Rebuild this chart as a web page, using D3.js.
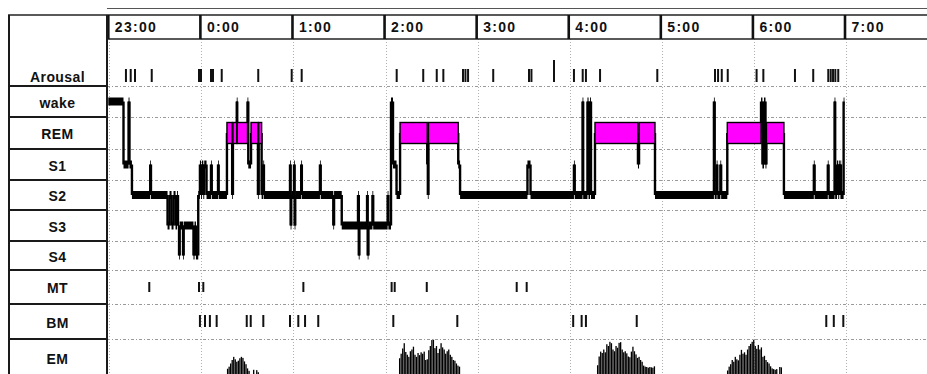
<!DOCTYPE html>
<html>
<head>
<meta charset="utf-8">
<script src="https://cdn.jsdelivr.net/npm/d3@7"></script>
<style>
  html, body { margin: 0; padding: 0; background: #fff; }
  svg { display: block; }
  text { font-family: "Liberation Sans", Arial, Helvetica, sans-serif; font-weight: bold; fill: #111; }
</style>
</head>
<body>
<script>
// ---- data: minutes after 23:00 ----
const hourTicks = [0, 60, 120, 180, 240, 300, 360, 420, 480];
const hourLabels = ["23:00", "0:00", "1:00", "2:00", "3:00", "4:00", "5:00", "6:00", "7:00"];
const rowLabels = ["Arousal", "wake", "REM", "S1", "S2", "S3", "S4", "MT", "BM", "EM"];
const stages = ["wake", "REM", "S1", "S2", "S3", "S4"];

// sleep stage changes: [start minute, stage]
const hypnogram = [
  [0, "wake"], [9.9, "S1"], [13.2, "wake"], [13.8, "S1"], [15.4, "S2"], [27.3, "S1"], [27.8, "S2"],
  [38.6, "S3"], [39.9, "S2"], [41.2, "S3"], [42.5, "S2"], [43.8, "S3"], [44.8, "S2"], [45.4, "S3"],
  [46.1, "S4"], [46.5, "S3"], [48.7, "S4"], [49.1, "S3"], [55.5, "S4"], [56.2, "S3"], [57.1, "S4"],
  [58.6, "S2"], [59.7, "S1"], [60.4, "S2"], [61.0, "S1"], [61.9, "S2"], [62.5, "S1"], [64.0, "S2"],
  [66.9, "S1"], [67.4, "S2"], [71.5, "S1"], [71.9, "S2"],
  [77.3, "REM"], [80.7, "S2"], [81.2, "REM"], [83.7, "wake"], [84.0, "REM"], [90.7, "wake"],
  [91.2, "S1"], [93.0, "REM"], [97.5, "S2"], [98.0, "REM"], [99.9, "S2"], [101.0, "S1"], [101.4, "S2"],
  [118.4, "S1"], [118.8, "S3"], [119.2, "S2"], [121.0, "S1"], [121.4, "S3"], [121.8, "S2"],
  [125.7, "S1"], [126.1, "S2"], [137.9, "S1"], [138.4, "S2"], [146.6, "S3"], [147.1, "S2"],
  [152.1, "S3"], [162.7, "S2"], [163.2, "S4"], [163.6, "S3"], [168.6, "S2"], [169.0, "S4"], [169.5, "S3"],
  [172.1, "S2"], [172.6, "S3"], [182.0, "S2"], [182.5, "S3"], [184.2, "wake"], [185.5, "S1"], [187.8, "S2"],
  [190.1, "REM"], [207.8, "S1"], [208.2, "S2"], [208.6, "REM"], [228.0, "S1"], [229.2, "S2"],
  [273.1, "S1"], [275.1, "S2"], [303.4, "S1"], [303.9, "S2"], [309.0, "wake"], [309.4, "S2"],
  [312.2, "wake"], [312.9, "S2"], [313.9, "wake"], [314.5, "S2"],
  [317.1, "REM"], [345.1, "S1"], [345.8, "REM"], [356.2, "S2"],
  [394.6, "wake"], [395.1, "S2"], [396.4, "S1"], [396.8, "S2"], [398.8, "S1"], [399.3, "S2"],
  [403.3, "REM"], [425.3, "wake"], [426.2, "S1"], [427.2, "wake"], [428.2, "S1"], [428.8, "REM"],
  [440.2, "S2"], [459.7, "S1"], [460.2, "S2"], [468.8, "S1"], [469.3, "S2"], [473.2, "wake"], [473.6, "S2"],
  [474.8, "S1"], [475.5, "S2"], [476.0, "S1"], [476.6, "S2"], [477.0, "S1"], [477.4, "S2"], [479.1, "wake"]
];
const hypnogramEnd = 479.4;

// event markers
const arousals = [11.5, 14.6, 17.4, 28.3, 59.1, 60.4, 66.9, 68.2, 73.9, 97.7, 119.5, 126.0,
  187.9, 205.2, 214.0, 218.3, 231.1, 232.7, 234.4, 250.8, 274.1, 275.7, 303.4, 309.1, 311.2,
  320.4, 357.7, 395.3, 397.3, 399.7, 403.6, 422.4, 426.8, 447.4, 459.3, 469.1, 470.7, 472.2,
  473.7, 475.6];
const longArousals = [290.4];
const movementTime = [26.7, 59.1, 61.9, 127.1, 184.6, 186.6, 207.5, 266.1, 272.6];
const bodyMovements = [59.7, 63.0, 66.2, 70.6, 90.2, 92.8, 101.0, 118.4, 123.8, 128.2, 136.8,
  185.7, 227.4, 302.9, 308.4, 311.2, 344.3, 467.8, 472.7, 478.9];

// eye-movement density per minute during each REM period
const emStarts = [77.3, 189.4, 318.4, 403.1];
const emValues = [
  [1.5, 2.1, 3.0, 4.0, 4.9, 4.2, 3.5, 3.8, 4.5, 4.9, 4.6, 3.6, 2.8, 1.6, 0.9, 0, 0, 1.2, 0, 1.1, 0.5],
  [4.5, 5.8, 7.3, 8.8, 6.3, 5.5, 4.9, 6.5, 7.0, 7.8, 5.5, 4.9, 6.0, 5.4, 6.2, 5.8, 6.4, 4.0, 4.2, 6.8,
   8.0, 9.7, 9.8, 7.4, 8.0, 6.0, 7.2, 8.8, 7.6, 7.0, 5.8, 6.5, 7.0, 5.5, 4.9, 4.0, 3.8, 3.0, 2.4, 2.1],
  [2.5, 5.0, 6.4, 6.0, 7.0, 6.2, 8.5, 8.0, 9.2, 8.8, 7.0, 6.5, 8.0, 7.5, 8.9, 9.1, 7.0, 6.2, 6.5, 5.9,
   5.0, 4.8, 6.4, 7.8, 6.5, 5.6, 4.6, 4.9, 4.0, 3.5, 2.4, 2.1, 2.0, 1.8, 2.0, 1.9, 1.8, 2.2],
  [1.0, 2.1, 2.8, 4.0, 3.5, 4.9, 4.2, 3.9, 5.5, 6.9, 5.8, 6.2, 5.5, 7.0, 8.0, 8.6, 9.2, 9.8, 8.0, 7.2,
   8.3, 7.0, 7.6, 4.9, 5.2, 4.0, 3.4, 3.0, 2.2, 1.6, 1.4, 1.2, 1.4, 0, 2.0, 1.9]
];

// ---- layout ----
const W = 927, H = 374;
const labelLeft = 8, labelRight = 107, plotRight = 927;
const headerTop = 15, headerBottom = 39;
const rowEdges = [39, 86, 117, 149, 180, 210, 241, 270, 304, 339, 376];
const rowTop = {}, rowBottom = {}, rowMid = {};
rowLabels.forEach((r, i) => { rowTop[r] = rowEdges[i]; rowBottom[r] = rowEdges[i + 1]; rowMid[r] = (rowEdges[i] + rowEdges[i + 1]) / 2; });

const x = d3.scaleLinear().domain([0, 480]).range([108.3, 845]);
const yStage = d3.scaleOrdinal().domain(stages).range(stages.map(s => rowMid[s]));
const yEm = d3.scaleLinear().domain([0, 10]).range([374, 339]);

const svg = d3.select("body").append("svg").attr("width", W).attr("height", H);

// dotted grid in the plot area
const grid = svg.append("g").attr("stroke", "#9a9a9a").attr("stroke-width", 1).attr("stroke-dasharray", "3,2,1,2");
grid.selectAll("line.h").data(rowEdges.slice(1, -1)).join("line")
  .attr("x1", labelRight).attr("x2", plotRight).attr("y1", d => d + 0.5).attr("y2", d => d + 0.5);
grid.selectAll("line.v").data(hourTicks).join("line")
  .attr("stroke", "#b0b0b0").attr("stroke-dasharray", "1,2")
  .attr("x1", d => Math.round(x(d)) + 1.5).attr("x2", d => Math.round(x(d)) + 1.5)
  .attr("y1", headerBottom).attr("y2", H);

// header with hour labels
svg.append("line").attr("x1", labelRight).attr("x2", plotRight).attr("y1", 8.5).attr("y2", 8.5)
  .attr("stroke", "#555").attr("stroke-width", 1);
svg.append("line").attr("x1", labelLeft).attr("x2", plotRight).attr("y1", headerTop).attr("y2", headerTop)
  .attr("stroke", "#222").attr("stroke-width", 1.6);
svg.append("line").attr("x1", labelRight).attr("x2", plotRight).attr("y1", headerBottom).attr("y2", headerBottom)
  .attr("stroke", "#222").attr("stroke-width", 1.6);
svg.append("g").selectAll("line").data(hourTicks).join("line")
  .attr("x1", d => x(d)).attr("x2", d => x(d)).attr("y1", headerTop).attr("y2", headerBottom)
  .attr("stroke", "#111").attr("stroke-width", 2.6);
svg.append("g").selectAll("text").data(hourTicks).join("text")
  .attr("x", d => x(d) + 6.5).attr("y", 31.5)
  .attr("font-size", 14).attr("letter-spacing", 1.3)
  .text((d, i) => hourLabels[i]);

// label column
const lab = svg.append("g").attr("stroke", "#1a1a1a").attr("stroke-width", 2);
lab.append("line").attr("x1", labelLeft + 1).attr("x2", labelLeft + 1).attr("y1", headerTop).attr("y2", H);
lab.append("line").attr("x1", labelRight).attr("x2", labelRight).attr("y1", headerTop).attr("y2", H);
lab.selectAll("line.r").data(rowEdges.slice(1, -1)).join("line")
  .attr("x1", labelLeft).attr("x2", labelRight).attr("y1", d => d).attr("y2", d => d);
svg.append("g").selectAll("text").data(rowLabels).join("text")
  .attr("x", 57.5)
  .attr("y", d => d === "Arousal" ? 81.7 : rowMid[d] + 6)
  .attr("text-anchor", "middle").attr("font-size", 14).attr("letter-spacing", 0.4)
  .text(d => d);

// hypnogram segments
const segs = hypnogram.map((d, i) => ({
  t0: d[0], t1: i + 1 < hypnogram.length ? hypnogram[i + 1][0] : hypnogramEnd, stage: d[1]
}));
const steps = segs.slice(1).map((s, i) => ({ t: s.t0, from: segs[i].stage, to: s.stage }));

const hyp = svg.append("g");
hyp.selectAll("line").data(steps).join("line")
  .attr("x1", d => x(d.t)).attr("x2", d => x(d.t))
  .attr("y1", d => yStage(d.from)).attr("y2", d => yStage(d.to))
  .attr("stroke", "#000").attr("stroke-width", 2.4);
hyp.selectAll("rect.rem").data(segs.filter(s => s.stage === "REM")).join("rect")
  .attr("class", "rem")
  .attr("x", d => x(d.t0)).attr("width", d => x(d.t1) - x(d.t0))
  .attr("y", yStage("REM") - 10.5).attr("height", 21)
  .attr("fill", "#ff00ff").attr("stroke", "#000").attr("stroke-width", 1.4);
hyp.selectAll("rect.nrem").data(segs.filter(s => s.stage !== "REM")).join("rect")
  .attr("class", "nrem")
  .attr("x", d => x(d.t0)).attr("width", d => Math.max(x(d.t1) - x(d.t0), 0.8))
  .attr("y", d => yStage(d.stage) - 4).attr("height", 8)
  .attr("fill", "#000");

// event ticks
function ticks(data, y1, y2, w) {
  svg.append("g").selectAll("line").data(data).join("line")
    .attr("x1", d => x(d)).attr("x2", d => x(d)).attr("y1", y1).attr("y2", y2)
    .attr("stroke", "#111").attr("stroke-width", w);
}
ticks(arousals, 69, 82, 2);
ticks(longArousals, 60, 82, 2);
ticks(movementTime, 282, 292, 2);
ticks(bodyMovements, 315, 327, 2);

// eye-movement density bars
const em = svg.append("g").attr("fill", "#000");
emValues.forEach((vals, k) => {
  em.append("g").selectAll("rect").data(vals).join("rect")
    .attr("x", (d, j) => x(emStarts[k] + j))
    .attr("width", (x(1) - x(0)) * 0.85)
    .attr("y", d => yEm(d)).attr("height", d => yEm(0) - yEm(d));
});
</script>
</body>
</html>
